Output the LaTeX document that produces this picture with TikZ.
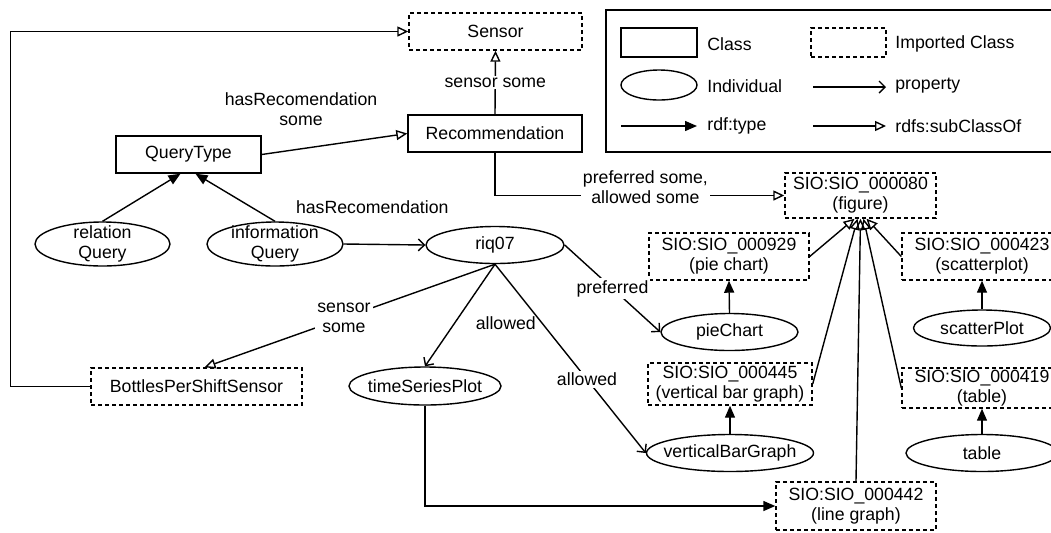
\documentclass[tikz,border=0pt]{standalone}
\usepackage{fontspec}
\setmainfont{Liberation Sans}
\usetikzlibrary{arrows.meta,shapes.geometric}

\begin{document}
\begin{tikzpicture}[x=0.5pt,y=-0.5pt,line width=0.7pt,
  font=\fontsize{8.85pt}{10pt}\selectfont,
  myclass/.style={draw,rectangle,align=center,inner sep=1pt},
  myimport/.style={myclass,dash pattern=on 2pt off 1.5pt},
  myindiv/.style={draw,ellipse,inner sep=0pt},
  mylabel/.style={fill=white,inner sep=1pt,align=center},
  mytype/.style={-{Triangle[length=6pt,width=5pt]}},
  myprop/.style={-{Straight Barb[length=3pt,width=6pt]}},
  mysub/.style={-{Triangle[open,length=5.5pt,width=5pt]}}]
\useasboundingbox (0,0) rectangle (1051,532);
\node[myimport,minimum width=86.5pt,minimum height=18.5pt] (sensor) at (495.5,31.5) {Sensor};
\node[myclass,minimum width=87pt,minimum height=18.5pt] (recommendation) at (495,133.5) {Recommendation};
\node[myclass,minimum width=72.5pt,minimum height=18.5pt] (querytype) at (188.5,154.5) {QueryType};
\node[myindiv,minimum width=67.5pt,minimum height=22pt,label={[align=center]center:relation\\Query}] (relationquery) at (102.5,244) {};
\node[myindiv,minimum width=68pt,minimum height=22pt,label={[align=center]center:information\\Query}] (infoquery) at (275,244) {};
\node[myindiv,minimum width=69pt,minimum height=18.5pt,label=center:riq07] (riq07) at (495,245) {};
\node[myimport,minimum width=105.5pt,minimum height=18.5pt] (bottles) at (196.5,386.5) {BottlesPerShiftSensor};
\node[myindiv,minimum width=76pt,minimum height=19pt,label=center:timeSeriesPlot] (timeseries) at (425,386) {};
\node[myimport,minimum width=75.5pt,minimum height=22.5pt] (figure) at (860.5,195.5) {SIO:SIO\_000080\\(figure)};
\node[myimport,minimum width=80pt,minimum height=23.5pt] (pieclass) at (729,256.5) {SIO:SIO\_000929\\(pie chart)};
\node[myindiv,minimum width=68.5pt,minimum height=18.5pt,label=center:pieChart] (piechart) at (729.5,332) {};
\node[myimport,minimum width=80pt,minimum height=23.5pt] (scatterclass) at (982,256.5) {SIO:SIO\_000423\\(scatterplot)};
\node[myindiv,minimum width=68.5pt,minimum height=18pt,label=center:scatterPlot] (scatterplot) at (982,328) {};
\node[myimport,minimum width=82pt,minimum height=21pt] (barclass) at (730,384) {SIO:SIO\_000445\\(vertical bar graph)};
\node[myindiv,minimum width=83.5pt,minimum height=18.5pt,label=center:verticalBarGraph] (bargraph) at (730,453) {};
\node[myimport,minimum width=80pt,minimum height=20pt] (tableclass) at (982,388) {SIO:SIO\_000419\\(table)};
\node[myindiv,minimum width=76pt,minimum height=18.5pt,label=center:table] (table) at (982,453) {};
\node[myimport,minimum width=80pt,minimum height=24pt] (lineclass) at (856,506) {SIO:SIO\_000442\\(line graph)};

\draw[mysub] (bottles.west) -- ++(-80,0) |- (sensor.west);
\draw[mysub] (recommendation.north) -- node[mylabel]{sensor some} (sensor.south);
\draw[mysub] (querytype.east) -- node[pos=0.27,above=8pt,align=center]{hasRecomendation\\some} (recommendation.west);
\draw[mytype] (relationquery.north) -- ([xshift=-4pt]querytype.south);
\draw[mytype] (infoquery.north) -- ([xshift=3.5pt]querytype.south);
\draw[myprop] (infoquery.east) -- node[pos=0.35,above=11.5pt]{hasRecomendation} (riq07.west);
\draw[mysub] (recommendation.south) |- node[mylabel,pos=0.76,yshift=4pt]{preferred some,\\allowed some} (figure.west);
\draw[mysub] (riq07.south) -- node[mylabel,pos=0.52]{sensor\\some} ([xshift=4pt]bottles.north);
\draw[myprop] (riq07.south) -- node[pos=0.58,right=7pt]{allowed} (timeseries.north);
\draw[myprop] (riq07.south) -- node[mylabel,pos=0.61]{allowed} (bargraph.west);
\draw[myprop] (riq07.east) -- node[mylabel]{preferred} (piechart.west);
\draw[mytype] (timeseries.south) |- (lineclass.west);
\foreach \a/\b in {piechart/pieclass,scatterplot/scatterclass,bargraph/barclass,table/tableclass}
  {\draw[mytype] (\a.north) -- (\b.south);}
\foreach \a/\s in {pieclass.east/-3,barclass.east/-1.5,lineclass.north/0,tableclass.west/1.5,scatterclass.west/3}
  {\draw[mysub] (\a) -- ([xshift=\s pt]figure.south);}

\draw (606,10) rectangle (1060,152);
\node[myclass,minimum width=38pt,minimum height=14.5pt] (legclass) at (659,42.5) {};
\node[myimport,minimum width=37.5pt,minimum height=14.5pt] (legimport) at (848.5,42.5) {};
\node[myindiv,minimum width=38pt,minimum height=15pt] (legindiv) at (659,85) {};
\coordinate (legpropa) at (813,87);
\coordinate (legpropb) at (886,87);
\coordinate (legtypea) at (621,126);
\coordinate (legtypeb) at (697,126);
\coordinate (legsuba) at (813,126);
\coordinate (legsubb) at (886,126);
\draw[myprop] (legpropa) -- (legpropb);
\draw[mytype] (legtypea) -- (legtypeb);
\draw[mysub] (legsuba) -- (legsubb);
\node[anchor=west] (legclasstext) at (700,44) {Class};
\node[anchor=west] (legimporttext) at (888,44) {Imported Class};
\node[anchor=west] (legindivtext) at (700,86) {Individual};
\node[anchor=west] (legproptext) at (888,86) {property};
\node[anchor=west] (legtypetext) at (700,126) {rdf:type};
\node[anchor=west] (legsubtext) at (888,126) {rdfs:subClassOf};
\end{tikzpicture}
\end{document}
